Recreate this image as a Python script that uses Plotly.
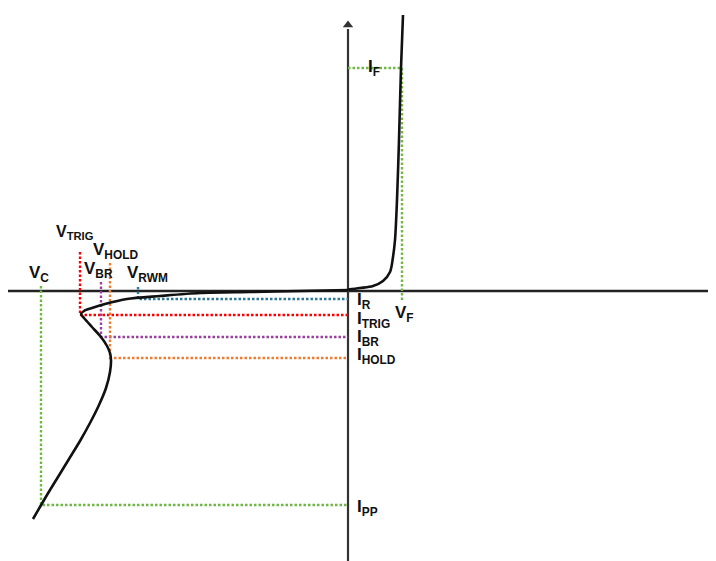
import plotly.graph_objects as go

# schematic TVS diode I-V curve, units are arbitrary (origin = axis crossing)
fwd_v = [0, 12, 25, 35, 42, 45, 47, 49, 51, 53, 55]
fwd_i = [1.5, 3, 5, 10, 19, 34, 51, 91, 151, 223, 276]

rev_v = [0, -48, -98, -148, -188, -221, -243, -256, -264, -267, -264, -256, -247,
         -241, -238, -237, -238, -242, -249, -258, -268, -279, -290, -301, -315]
rev_i = [1, 0, -1, -2, -5, -8, -13, -17, -20, -23, -27, -36, -46,
         -55, -62, -69, -81, -97, -114, -132, -150, -168, -186, -204, -228]

# characteristic points
param_v = [-210, -268, -247, -238, -307]
param_i = [-8, -24, -46, -67, -214]
param_top = [4, 39, 9, 28, 5]
param_colors = ["#2B7A9B", "#FF0000", "#9B3FA0", "#ED7D31", "#70B845"]

vf, i_f, vf_bottom = 54, 223, -9

# page body has an 8px margin, so the figure is 8px smaller than the window
x_range = [-340, 368]
y_range = [-270, 283]

dots = "2.5px,2px"

fig = go.Figure()

# axes
fig.add_trace(go.Scatter(x=[-340, 368], y=[0, 0], mode="lines",
                         line=dict(color="#222", width=2.6)))
fig.add_trace(go.Scatter(x=[0, 0], y=[-270, 262], mode="lines",
                         line=dict(color="#333", width=2.2)))
fig.add_trace(go.Scatter(x=[0], y=[266], mode="markers",
                         marker=dict(symbol="triangle-up", size=9, color="#333")))

# dotted reference lines
for v, i, top, c in zip(param_v, param_i, param_top, param_colors):
    fig.add_trace(go.Scatter(x=[v, v, 0], y=[top, i, i], mode="lines",
                             line=dict(color=c, width=2.4, dash=dots)))
fig.add_trace(go.Scatter(x=[0, vf, vf], y=[i_f, i_f, vf_bottom], mode="lines",
                         line=dict(color="#70B845", width=2.4, dash=dots)))

# curves
fig.add_trace(go.Scatter(x=fwd_v, y=fwd_i, mode="lines",
                         line=dict(color="#111", width=2.6, shape="spline", smoothing=0.9)))
fig.add_trace(go.Scatter(x=rev_v, y=rev_i, mode="lines",
                         line=dict(color="#111", width=2.6, shape="spline", smoothing=0.8)))

# labels: (text, left x, y of letter centre, font size)
labels = [
    ("V<sub>C</sub>", -321, 18, 17),
    ("V<sub>TRIG</sub>", -294, 60, 16),
    ("V<sub>HOLD</sub>", -257, 41, 17),
    ("V<sub>BR</sub>", -266, 22, 17),
    ("V<sub>RWM</sub>", -223, 18, 17),
    ("V<sub>F</sub>", 45, -22, 17),
    ("I<sub>F</sub>", 18, 224, 17),
    ("I<sub>R</sub>", 7, -9, 17),
    ("I<sub>TRIG</sub>", 7, -28, 17),
    ("I<sub>BR</sub>", 7, -46, 17),
    ("I<sub>HOLD</sub>", 7, -64, 17),
    ("I<sub>PP</sub>", 7, -216, 17),
]
for txt, x, y, sz in labels:
    fig.add_annotation(x=x, y=y, text="<b>" + txt + "</b>", showarrow=False,
                       xanchor="left", yanchor="middle", yshift=-1,
                       font=dict(family="Liberation Sans Narrow, Arial Narrow, Liberation Sans, Arial",
                                 size=sz, color="#111"))

fig.update_xaxes(visible=False, range=x_range, fixedrange=True)
fig.update_yaxes(visible=False, range=y_range, fixedrange=True)
fig.update_layout(width=708, height=553, showlegend=False,
                  margin=dict(t=0, b=0, l=0, r=0),
                  paper_bgcolor="white", plot_bgcolor="white")

fig.write_html("out.html")
